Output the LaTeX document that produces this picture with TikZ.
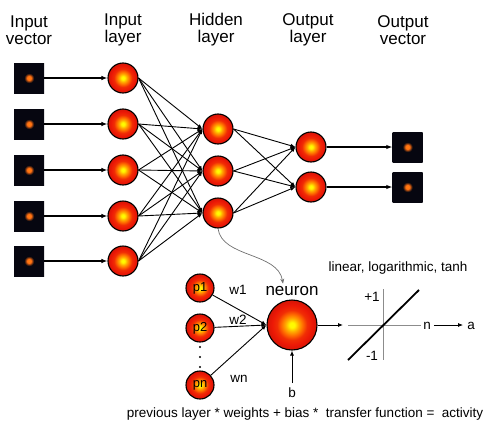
\documentclass[tikz,border=0pt]{standalone}
\usepackage{fontspec}
\setmainfont{Liberation Sans}
\usetikzlibrary{arrows.meta}
\definecolor{dk}{RGB}{6,6,16}
\definecolor{axisgray}{RGB}{140,140,140}
\definecolor{ballred}{RGB}{236,24,6}
\definecolor{ballorange}{RGB}{255,110,0}
\definecolor{ballyellow}{RGB}{255,250,0}
\definecolor{pixorange}{RGB}{255,130,20}
\pgfdeclareradialshading{ball}{\pgfpoint{0bp}{0bp}}{color(0bp)=(ballyellow); color(2.5bp)=(ballyellow); color(6.5bp)=(ballorange!55!ballyellow); color(10.5bp)=(ballorange); color(15bp)=(ballred!75!ballorange); color(20bp)=(ballred); color(25bp)=(ballred!90!black); color(50bp)=(ballred!90!black)}
\pgfdeclareradialshading{pix}{\pgfpoint{0bp}{0bp}}{color(0bp)=(pixorange); color(3.5bp)=(pixorange!85!red); color(8bp)=(dk); color(50bp)=(dk)}
\tikzset{
  ballnode/.style={circle, draw=black, line width=1.1pt, shading=ball, minimum size=30pt, inner sep=0pt},
  pnode/.style={circle, draw=black, line width=1.1pt, shading=ball, minimum size=28pt, inner sep=0pt, font=\fontsize{13}{13}\selectfont},
  pixnode/.style={rectangle, minimum size=30pt, inner sep=0pt, shading=pix},
  conn/.style={line width=1.1pt, -{Latex[length=6pt,width=4.5pt]}},
  thin conn/.style={line width=0.9pt, -{Latex[length=5pt,width=4pt]}},
  title/.style={align=center, font=\fontsize{17}{17}\selectfont},
  small/.style={font=\fontsize{13.5}{13.5}\selectfont, inner sep=0pt},
}
\begin{document}
\begin{tikzpicture}[x=1pt, y=-1pt]
\useasboundingbox (0,0) rectangle (487,423);
% titles
\node[title] (t1) at (29,30) {Input\\vector};
\node[title] (t2) at (123,30) {Input\\layer};
\node[title] (t3) at (216,30) {Hidden\\layer};
\node[title] (t4) at (308,30) {Output\\layer};
\node[title] (t5) at (403,30) {Output\\vector};
% input vector and input layer
\foreach \i/\y in {1/78,2/124,3/170,4/216,5/261}{
  \node[pixnode] (v\i) at (29,\y) {};
  \node[ballnode] (i\i) at (123,\y) {};
  \draw[conn] (v\i) -- (i\i);
}
% hidden layer
\foreach \j/\y in {1/129,2/171,3/213}{
  \node[ballnode] (h\j) at (218,\y) {};
}
% output layer and vector
\foreach \k/\y in {1/147,2/187}{
  \node[ballnode] (o\k) at (311,\y) {};
  \node[pixnode] (u\k) at (407.5,\y) {};
  \draw[conn] (o\k) -- (u\k);
}
% connections
\foreach \i in {1,...,5}{
  \foreach \j in {1,2,3}{
    \draw[thin conn] (i\i.east) -- (h\j.west);
  }
}
\foreach \j in {1,2,3}{
  \foreach \k in {1,2}{
    \draw[thin conn] (h\j.east) -- (o\k.west);
  }
}
% neuron detail
\node[pnode] (p1) at (200,288) {p1};
\node[pnode] (p2) at (200,328) {p2};
\node[pnode] (pn) at (200,385) {pn};
\foreach \y [count=\d] in {347,357,367}{
  \fill (200,\y) circle (1.1pt) coordinate (dot\d);
}
\node[circle, draw=black, line width=1.1pt, shading=ball, minimum size=50pt, inner sep=0pt] (nr) at (292,325) {};
\node[anchor=base, font=\fontsize{17}{17}\selectfont, inner sep=0pt] (nlab) at (292,295) {neuron};
\draw[thin conn] (p1) -- (nr.west);
\draw[thin conn] (p2) -- (nr.west);
\draw[thin conn] (pn) -- (nr.west);
\node[small, anchor=base] (w1) at (238,294) {w1};
\node[small, anchor=base] (w2) at (238,324) {w2};
\node[small, anchor=base] (wn) at (239,382) {wn};
\node[small, anchor=base] (b) at (292,397) {b};
\draw[thin conn] (b.north) ++(0,-4) coordinate (bstart) -- (nr.south);
\coordinate (nrout) at (343,325);
\draw[line width=0.8pt, -{Latex[length=5pt,width=4pt]}] (nr.east) -- (nrout);
% curved arrow from hidden node to neuron
\draw[axisgray!80!black, line width=0.7pt, -{Stealth[length=5pt,width=4pt]}] (h3.south) .. controls (222,258) and (278,252) .. ([xshift=-9pt,yshift=2pt]nlab.north);
% transfer function
\node[small, anchor=base] (tf) at (398,271) {linear, logarithmic, tanh};
\coordinate (ha) at (348,325);
\coordinate (hb) at (421,325);
\coordinate (va) at (383.5,289);
\coordinate (vb) at (383.5,360);
\draw[axisgray, line width=0.9pt] (ha) -- (hb);
\draw[axisgray, line width=0.9pt] (va) -- (vb);
\coordinate (da) at (348,360);
\coordinate (db) at (419,290);
\draw[black, line width=1.8pt] (da) -- (db);
\node[small] (plus) at (372,297) {+1};
\node[small] (minus) at (372,356) {-1};
\node[small, anchor=base] (nn) at (427,329) {n};
\node[small, anchor=base] (aa) at (471,329) {a};
\draw[line width=0.8pt, -{Latex[length=5pt,width=4pt]}] ([xshift=3pt]nn.east |- hb) -- ([xshift=-4pt]aa.west |- hb);
% bottom formula
\node[small, anchor=base] (formula) at (305,417) {previous layer * weights + bias *\ \ transfer function =\ \ activity};
\end{tikzpicture}
\end{document}
